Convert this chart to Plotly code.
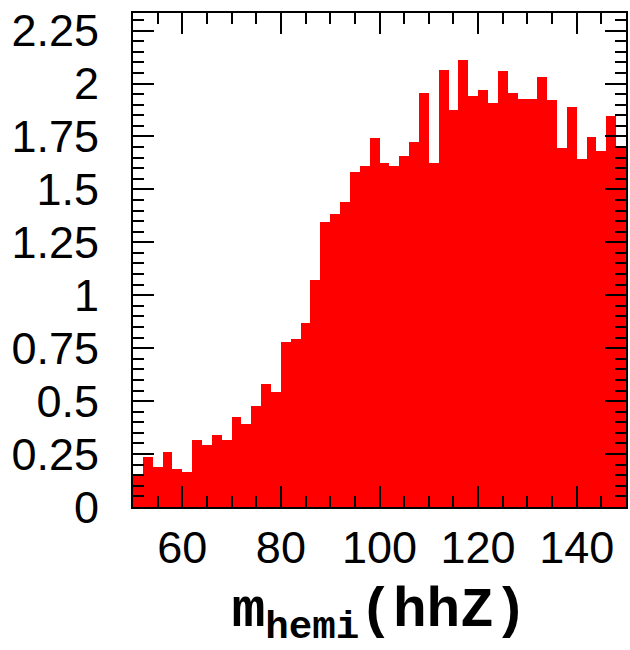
import plotly.graph_objects as go

# Histogram binning: 50 bins of width 2 from 50 to 150
bin_start = 50
bin_width = 2

# Bin contents (normalised weights), one per bin
weights = [
    0.15, 0.236, 0.188, 0.259, 0.181, 0.165, 0.315, 0.291, 0.338, 0.315,
    0.425, 0.394, 0.475, 0.579, 0.543, 0.777, 0.792, 0.869, 1.071, 1.347,
    1.384, 1.442, 1.581, 1.611, 1.742, 1.623, 1.611, 1.658, 1.723, 1.957,
    1.626, 2.065, 1.876, 2.109, 1.942, 1.970, 1.910, 2.057, 1.955, 1.926,
    1.926, 2.033, 1.920, 1.694, 1.891, 1.642, 1.749, 1.683, 1.847, 1.702,
]

x_tick_vals = [60, 80, 100, 120, 140]
x_tick_text = ["60", "80", "100", "120", "140"]
y_tick_vals = [0, 0.25, 0.5, 0.75, 1, 1.25, 1.5, 1.75, 2, 2.25]
y_tick_text = ["0", "0.25", "0.5", "0.75", "1", "1.25", "1.5", "1.75", "2", "2.25"]

fig = go.Figure(
    go.Bar(
        x0=bin_start + bin_width / 2,
        dx=bin_width,
        y=weights,
        width=bin_width,
        marker=dict(color="#ff0000", line=dict(width=0)),
        hoverinfo="x+y",
    )
)

tick_font = dict(family="Liberation Sans, Arial, sans-serif", size=45, color="black")

axis_common = dict(
    showline=True,
    linecolor="black",
    linewidth=2,
    mirror="allticks",
    ticks="inside",
    ticklen=21,
    tickwidth=2,
    tickcolor="black",
    showgrid=False,
    zeroline=False,
    tickfont=tick_font,
)

fig.update_xaxes(
    range=[50, 150],
    tickmode="array",
    tickvals=x_tick_vals,
    ticktext=x_tick_text,
    minor=dict(tick0=50, dtick=5, ticks="inside", ticklen=11, tickwidth=2, tickcolor="black"),
    ticklabelstandoff=0,
    title=dict(
        text="m<sub>hemi</sub>(hhZ)",
        font=dict(family="Liberation Mono, Courier New, monospace", size=56, color="black", weight="bold"),
        standoff=15,
    ),
    **axis_common,
)

fig.update_yaxes(
    range=[0, 2.333],
    tickmode="array",
    tickvals=y_tick_vals,
    ticktext=y_tick_text,
    minor=dict(tick0=0, dtick=0.05, ticks="inside", ticklen=11, tickwidth=2, tickcolor="black"),
    ticklabelstandoff=23,
    **axis_common,
)

fig.update_layout(
    width=630,
    height=650,
    margin=dict(l=133, r=2, t=13, b=143),
    paper_bgcolor="white",
    plot_bgcolor="white",
    bargap=0,
    showlegend=False,
)

fig.write_html("out.html")
